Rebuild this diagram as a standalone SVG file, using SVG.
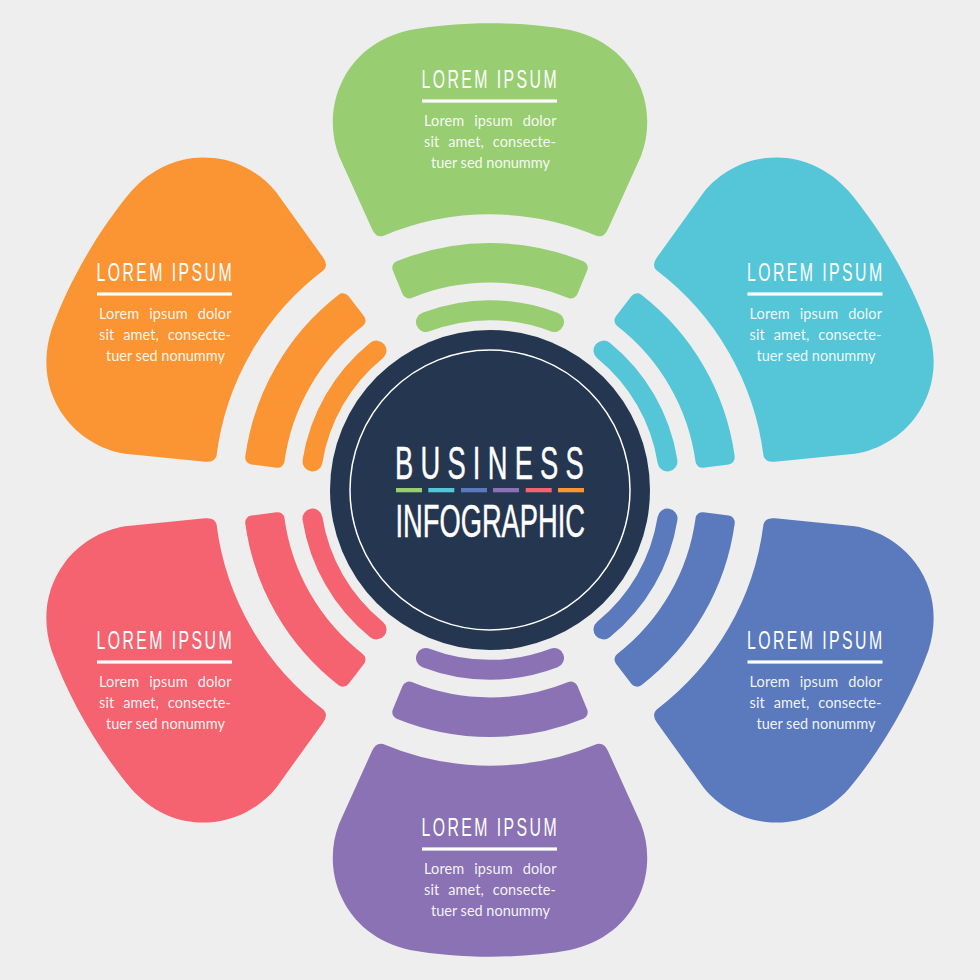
<svg xmlns="http://www.w3.org/2000/svg" width="980" height="980" viewBox="0 0 980 980">
<style>
.title{font-family:"Liberation Sans",Arial,sans-serif;font-size:26px;fill:#fff;letter-spacing:4px}
.body{font-family:"Lato","Noto Sans",sans-serif;font-size:14.500px;fill:#fff;fill-opacity:.93}
.rule{fill:#fff}
.band{stroke-width:14;stroke-linejoin:round}
.thin{fill:none;stroke-width:20;stroke-linecap:round}
.big{font-family:"Liberation Sans",Arial,sans-serif;font-size:45.500px;fill:#fff;stroke:#fff;stroke-width:.5}
</style>
<defs>
<path id="petal" d="M383 236A275 275 0 0 1 597 236Q604 238 608 229L641 156C650 133 649 106 639.500 85C627 56 602 37 570 30C520 21 460 21 410 30C378 37 353 56 340.500 85C331 106 330 133 339 156L372 229Q376 238 383 236Z"/>
<path id="band" d="M399.300 267.800A240 240 0 0 1 580.700 267.800L571 291.400A214.500 214.500 0 0 0 409 291.400Z"/>
<path id="thin" d="M426 322A179 179 0 0 1 554 322"/>
<g id="label">
<text class="title" x="421.500" y="88" textLength="137.500" lengthAdjust="spacingAndGlyphs">LOREM IPSUM</text>
<rect class="rule" x="422" y="99.400" width="135" height="3.200"/>
<text class="body" x="424" y="126" textLength="132.500" word-spacing="6">Lorem ipsum dolor</text>
<text class="body" x="424" y="147" textLength="132" word-spacing="5">sit amet, consecte-</text>
<text class="body" x="431" y="168" textLength="119">tuer sed nonummy</text>
</g>
</defs>
<rect width="980" height="980" fill="#eeeeee"/>
<g id="connectors">
<g id="arcs-green" fill="#98cd72" stroke="#98cd72"><use href="#band" class="band"/><use href="#thin" class="thin"/></g>
<g id="arcs-cyan" fill="#55c5d8" stroke="#55c5d8" transform="rotate(60 490 490)"><use href="#band" class="band"/><use href="#thin" class="thin"/></g>
<g id="arcs-blue" fill="#5a7abd" stroke="#5a7abd" transform="rotate(120 490 490)"><use href="#band" class="band"/><use href="#thin" class="thin"/></g>
<g id="arcs-purple" fill="#8a72b4" stroke="#8a72b4" transform="rotate(180 490 490)"><use href="#band" class="band"/><use href="#thin" class="thin"/></g>
<g id="arcs-red" fill="#f4636f" stroke="#f4636f" transform="rotate(240 490 490)"><use href="#band" class="band"/><use href="#thin" class="thin"/></g>
<g id="arcs-orange" fill="#fb9433" stroke="#fb9433" transform="rotate(300 490 490)"><use href="#band" class="band"/><use href="#thin" class="thin"/></g>
</g>
<g id="node-green"><use href="#petal" fill="#98cd72"/><use href="#label"/></g>
<g id="node-cyan"><use href="#petal" fill="#55c5d8" transform="rotate(60 490 490)"/><use href="#label" transform="translate(325.500 193)"/></g>
<g id="node-blue"><use href="#petal" fill="#5a7abd" transform="rotate(120 490 490)"/><use href="#label" transform="translate(325.500 561)"/></g>
<g id="node-purple"><use href="#petal" fill="#8a72b4" transform="rotate(180 490 490)"/><use href="#label" transform="translate(0 748)"/></g>
<g id="node-red"><use href="#petal" fill="#f4636f" transform="rotate(240 490 490)"/><use href="#label" transform="translate(-325 561)"/></g>
<g id="node-orange"><use href="#petal" fill="#fb9433" transform="rotate(300 490 490)"/><use href="#label" transform="translate(-325 193)"/></g>
<g id="center">
<circle cx="490" cy="490" r="160" fill="#243650"/>
<circle cx="490" cy="490" r="140" fill="none" stroke="#fff" stroke-width="1.500"/>
<text class="big" x="395" y="479.300" letter-spacing="12" textLength="196" lengthAdjust="spacingAndGlyphs">BUSINESS</text>
<text class="big" x="395.500" y="536.500" textLength="189.500" lengthAdjust="spacingAndGlyphs">INFOGRAPHIC</text>
<rect x="396" y="488" width="26" height="4.300" fill="#98cd72"/>
<rect x="428.300" y="488" width="26" height="4.300" fill="#55c5d8"/>
<rect x="461" y="488" width="26" height="4.300" fill="#5a7abd"/>
<rect x="493" y="488" width="26" height="4.300" fill="#8a72b4"/>
<rect x="525.700" y="488" width="26" height="4.300" fill="#f4636f"/>
<rect x="558" y="488" width="26" height="4.300" fill="#fb9433"/>
</g>
</svg>
